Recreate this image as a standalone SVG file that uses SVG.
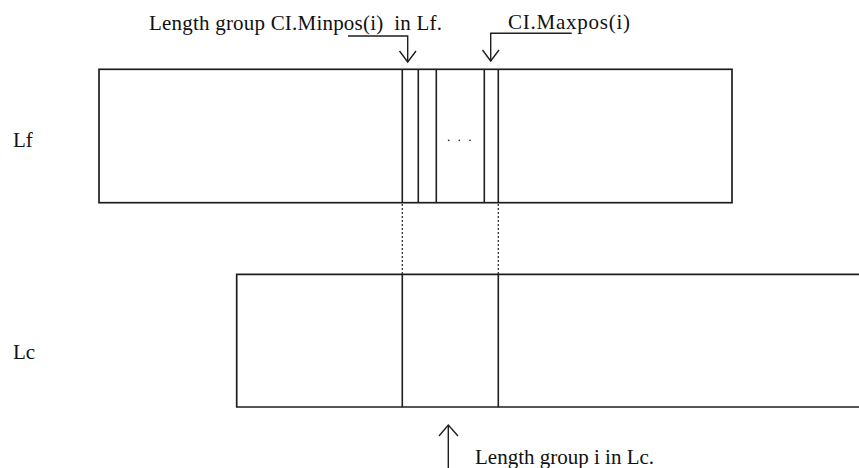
<svg xmlns="http://www.w3.org/2000/svg" width="859" height="468" viewBox="0 0 859 468">
  <style>
    .box { fill: none; stroke: #1e1e1e; stroke-width: 1.7; }
    .div { stroke: #1e1e1e; stroke-width: 1.6; }
    .lead { fill: none; stroke: #1e1e1e; stroke-width: 1.4; }
    .dot { stroke: #333; stroke-width: 1.3; stroke-dasharray: 2 2; }
    .lbl { font-family: "Liberation Serif", "Times New Roman", serif; font-size: 21px; fill: #111; }
  </style>

  <rect width="859" height="468" fill="#fff"/>

  <!-- fine array Lf with its length-group partitions -->
  <g id="lf">
    <rect class="box" x="99" y="69.3" width="633" height="133.4"/>
    <line class="div" x1="402.3" y1="69.3" x2="402.3" y2="202.7"/>
    <line class="div" x1="418.3" y1="69.3" x2="418.3" y2="202.7"/>
    <line class="div" x1="436.3" y1="69.3" x2="436.3" y2="202.7"/>
    <line class="div" x1="484.3" y1="69.3" x2="484.3" y2="202.7"/>
    <line class="div" x1="498.3" y1="69.3" x2="498.3" y2="202.7"/>
    <g fill="#333">
      <circle cx="448.7" cy="140.3" r="0.9"/>
      <circle cx="459.3" cy="140.3" r="0.9"/>
      <circle cx="470" cy="140.3" r="0.9"/>
    </g>
    <text class="lbl" x="13" y="147">Lf</text>
  </g>

  <!-- coarse array Lc, running off the right edge -->
  <g id="lc">
    <path class="box" d="M 870 274.3 H 236.7 V 407 H 870"/>
    <line class="div" x1="402.3" y1="274.3" x2="402.3" y2="407"/>
    <line class="div" x1="498.3" y1="274.3" x2="498.3" y2="407"/>
    <text class="lbl" x="13" y="359">Lc</text>
  </g>

  <!-- annotations -->
  <g id="label-minpos">
    <text class="lbl" x="149" y="29.5" textLength="293" lengthAdjust="spacing" xml:space="preserve">Length group CI.Minpos(i)  in Lf.</text>
  </g>
  <g id="label-maxpos">
    <text class="lbl" x="508" y="29" textLength="122" lengthAdjust="spacing">CI.Maxpos(i)</text>
  </g>
  <g id="label-group">
    <text class="lbl" x="475" y="464">Length group i in Lc.</text>
  </g>

  <!-- connectors: leaders, arrows and projection lines -->
  <g id="connectors">
    <path class="lead" d="M 348 36 H 407.7 V 62"/>
    <path class="lead" d="M 399.5 51 L 407.7 62 L 416 51"/>
    <path class="lead" d="M 571.7 33.3 H 490.7 V 61"/>
    <path class="lead" d="M 482.5 50 L 490.7 61 L 499 50"/>
    <path class="lead" d="M 448.3 468 V 425"/>
    <path class="lead" d="M 439 436 L 448.3 425 L 458 436"/>
    <line class="dot" x1="402.3" y1="204" x2="402.3" y2="274"/>
    <line class="dot" x1="498.3" y1="204" x2="498.3" y2="274"/>
  </g>
</svg>
